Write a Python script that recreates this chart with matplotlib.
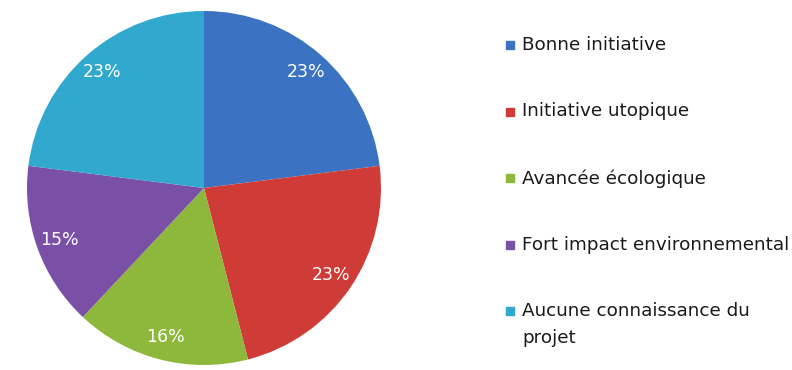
import matplotlib.pyplot as plt
from matplotlib.patches import Rectangle

labels = ["Bonne initiative", "Initiative utopique", "Avancée écologique",
          "Fort impact environnemental", "Aucune connaissance du\nprojet"]
values = [23, 23, 16, 15, 23]
colors = ["#3b73c2", "#cf3b36", "#8db83c", "#7a50a6", "#31a8cd"]

W, H = 792, 370
fig = plt.figure(figsize=(W / 100, H / 100), dpi=100)

# pie centre (px from left / top) and radius
cx, cy, r = 204, 188, 177
ax = fig.add_axes([(cx - r) / W, (H - cy - r) / H, 2 * r / W, 2 * r / H])
ax.pie(values, colors=colors, startangle=90, counterclock=False,
       autopct="%.0f%%", pctdistance=0.87, radius=1,
       wedgeprops=dict(linewidth=0),
       textprops=dict(color="white", fontsize=12.5))
ax.set_xlim(-1, 1)
ax.set_ylim(-1, 1)
ax.set_aspect("equal")
ax.axis("off")

# legend drawn by hand so the square sits on the first line of each entry
y0, step = 45, 66.5
for i, (lab, col) in enumerate(zip(labels, colors)):
    y = y0 + i * step
    fig.patches.append(Rectangle((506 / W, (H - y - 4) / H), 8 / W, 8 / H,
                                 transform=fig.transFigure, color=col))
    fig.text(522 / W, (H - y + 9) / H, lab, fontsize=13.2, color="#1a1a1a",
             va="top", ha="left", linespacing=1.65)

fig.savefig("out.png", dpi=100)
